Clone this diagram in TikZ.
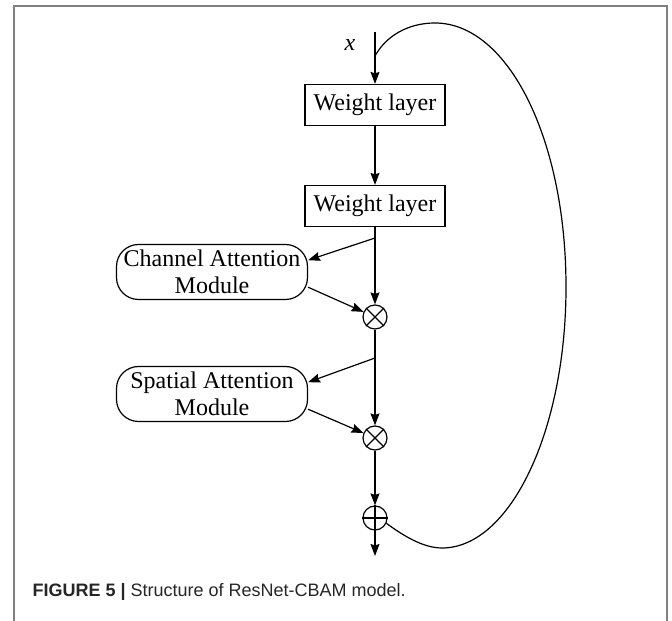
\documentclass[tikz,border=0pt]{standalone}
\usepackage{fontspec}
\setmainfont{Liberation Serif}
\newfontfamily\capfont{Liberation Sans}
\usetikzlibrary{arrows.meta}

\tikzset{
  layerbox/.style={draw, line width=1.2pt, minimum width=140pt, minimum height=41pt, inner sep=0pt},
  modulebox/.style={draw, line width=1.2pt, rounded corners=22pt, minimum width=191pt, minimum height=55pt, align=center, inner sep=0pt},
  opcircle/.style={draw, line width=1.2pt, circle, minimum size=24pt, inner sep=0pt},
  flow/.style={-{Stealth[length=12pt,width=9pt,inset=1.5pt]}, line width=1.2pt}
}

\begin{document}
\begin{tikzpicture}[x=1pt,y=1pt,font=\fontsize{24}{27}\selectfont]
\useasboundingbox (0,0) rectangle (672,621);
% frame
\draw[black!50, line width=1.3pt] (14,0) -- (14,615) -- (667,615) -- (667,0);
% input and layers
\coordinate (in) at (375,589);
\node (xlab) at (350,576) {\textit{x}};
\node[layerbox] (wl1) at (375,516) {Weight layer};
\node[layerbox] (wl2) at (375,415) {Weight layer};
% attention modules
\node[modulebox] (cam) at (212,349) {Channel Attention\\Module};
\node[modulebox] (sam) at (212,227) {Spatial Attention\\Module};
% operators
\node[opcircle] (mul1) at (375,304) {};
\node[opcircle] (mul2) at (375,183) {};
\node[opcircle] (add) at (375,103) {};
\draw[line width=1.1pt] (mul1.45) -- (mul1.225) (mul1.135) -- (mul1.-45);
\draw[line width=1.1pt] (mul2.45) -- (mul2.225) (mul2.135) -- (mul2.-45);
\draw[line width=1.1pt] (add.north) -- (add.south) (add.west) -- (add.east);
\coordinate (br1) at (375,383);
\coordinate (br2) at (375,263);
\coordinate (out) at (375,65);
% main path
\draw[flow] (in) -- (wl1);
\draw[flow] (wl1) -- (wl2);
\draw[flow] (wl2) -- (mul1);
\draw[flow] (mul1) -- (mul2);
\draw[flow] (mul2) -- (add);
\draw[flow] (add) -- (out);
% branches to the modules
\draw[flow] (br1) -- (cam.7);
\draw[flow] (cam.-9) -- (mul1);
\draw[flow] (br2) -- (sam.7);
\draw[flow] (sam.-9) -- (mul2);
% shortcut
\draw[line width=1.2pt] (add.-25) .. controls (401,87) and (422,73) .. (442,73)
  .. controls (510,73) and (566,190) .. (566,334)
  .. controls (566,482) and (508,598) .. (435,598)
  .. controls (408,598) and (386,585) .. (375,565);
% caption
\node[anchor=west, text=black!85, font=\capfont\fontsize{18}{20}\selectfont] (cap) at (29,29)
  {\textbf{FIGURE 5 |} Structure of ResNet-CBAM model.};
\end{tikzpicture}
\end{document}
